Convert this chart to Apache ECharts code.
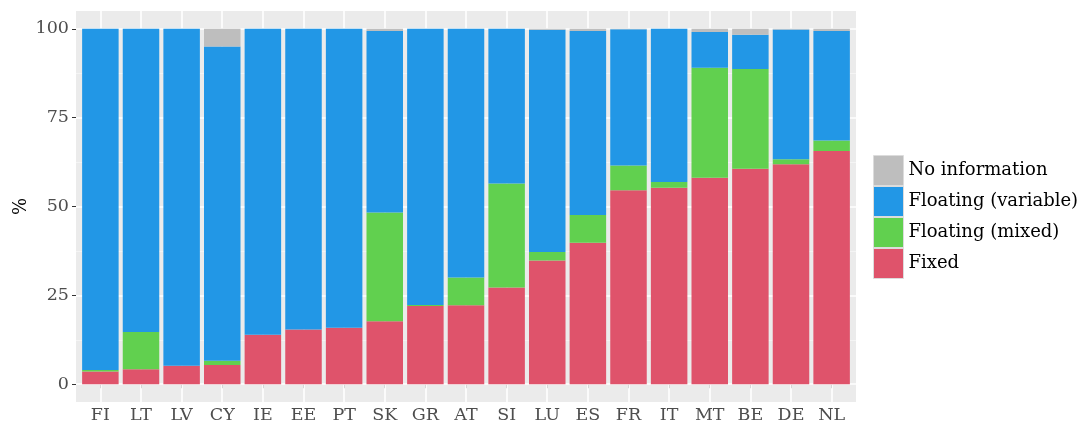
<!DOCTYPE html>
<html style="height: 100%">
<head>
    <meta charset="utf-8">
    <title>Interest rate type by country</title>
    <script type="text/javascript" src="https://cdn.jsdelivr.net/npm/echarts@6/dist/echarts.min.js"></script>
</head>
<body style="height: 100%; margin: 0; background: #ffffff;">
<div id="container" style="width: 1090px; height: 421px;"></div>
<script type="text/javascript">
    // countries, in plot order
    var categories = ['FI','LT','LV','CY','IE','EE','PT','SK','GR','AT','SI','LU','ES','FR','IT','MT','BE','DE','NL'];
    // shares in %
    var fixedData    = [3.6, 4.2, 5.2, 5.4, 13.9, 15.4, 15.9, 17.7, 22.0, 22.2, 27.2, 34.8, 39.8, 54.6, 55.3, 58.1, 60.6, 61.9, 65.6];
    var mixedData    = [0.4, 10.5, 0, 1.2, 0, 0, 0, 30.6, 0.3, 7.8, 29.3, 2.4, 7.8, 6.9, 1.6, 30.9, 28.1, 1.4, 3.0];
    var variableData = [96.0, 85.3, 94.8, 88.4, 86.1, 84.6, 84.1, 51.1, 77.7, 70.0, 43.5, 62.5, 51.8, 38.4, 43.1, 10.1, 9.6, 36.5, 30.8];
    var noInfoData   = [0, 0, 0, 5.0, 0, 0, 0, 0.6, 0, 0, 0, 0.3, 0.6, 0.1, 0, 0.9, 1.7, 0.2, 0.6];
    var yTicks = [0, 25, 50, 75, 100];
    var yMinor = [12.5, 37.5, 62.5, 87.5];

    var font = 'DejaVu Serif';
    var positions = categories.map(function (c, i) { return i + 1; });

    // value first, position second, so the stack runs on y
    function toPoints(arr) {
        return arr.map(function (v, i) { return [v, i + 1]; });
    }

    function barSeries(name, arr, color) {
        return {
            name: name,
            type: 'bar',
            stack: 'total',
            barWidth: 36.5,
            z: 3,
            encode: {x: 1, y: 0},
            itemStyle: {color: color},
            data: toPoints(arr)
        };
    }

    // grid lines drawn as mark lines of a helper series, under the bars
    var gridLines = [];
    yTicks.forEach(function (v) {
        gridLines.push({yAxis: v, lineStyle: {color: '#ffffff', width: 1.6, type: 'solid'}});
    });
    yMinor.forEach(function (v) {
        gridLines.push({yAxis: v, lineStyle: {color: '#f6f6f6', width: 0.8, type: 'solid'}});
    });
    positions.forEach(function (p) {
        gridLines.push({xAxis: p, lineStyle: {color: '#ffffff', width: 1.6, type: 'solid'}});
    });

    var myChart = echarts.init(document.getElementById('container'));
    var option = {
        animation: false,
        textStyle: {fontFamily: font},
        grid: {
            left: 76,
            right: 234,
            top: 11,
            bottom: 19,
            outerBoundsMode: 'none',
            containLabel: false,
            show: true,
            backgroundColor: '#ebebeb',
            borderWidth: 0
        },
        legend: {
            orient: 'vertical',
            left: 873,
            top: 155,
            padding: 0,
            itemWidth: 30,
            itemHeight: 30,
            itemGap: 0,
            icon: 'rect',
            textStyle: {fontFamily: font, fontSize: 18, color: '#000000'},
            itemStyle: {borderColor: '#dcdcdc', borderWidth: 1},
            data: ['No information', 'Floating (variable)', 'Floating (mixed)', 'Fixed']
        },
        xAxis: {
            type: 'value',
            min: 0.4,
            max: 19.6,
            splitLine: {show: false},
            axisLine: {show: false},
            axisTick: {show: true, length: 4, customValues: positions, lineStyle: {color: '#333333'}},
            axisLabel: {
                customValues: positions,
                margin: 4,
                fontFamily: font,
                fontSize: 17.5,
                color: '#4d4d4d',
                formatter: function (v) { return categories[Math.round(v) - 1] || ''; }
            }
        },
        yAxis: {
            type: 'value',
            min: -5,
            max: 105,
            name: '%',
            nameLocation: 'middle',
            nameRotate: 90,
            nameGap: 46,
            nameMoveOverlap: false,
            nameTextStyle: {fontFamily: font, fontSize: 18, color: '#000000'},
            splitLine: {show: false},
            axisLine: {show: false},
            axisTick: {show: true, length: 4, customValues: yTicks, lineStyle: {color: '#333333'}},
            axisLabel: {
                customValues: yTicks,
                margin: 7,
                fontFamily: font,
                fontSize: 17.5,
                color: '#4d4d4d'
            }
        },
        series: [
            {
                name: 'grid',
                type: 'scatter',
                data: [[10, 50]],
                symbolSize: 0,
                silent: true,
                z: 1,
                markLine: {
                    silent: true,
                    symbol: 'none',
                    z: 1,
                    animation: false,
                    label: {show: false},
                    data: gridLines
                }
            },
            barSeries('Fixed', fixedData, '#df536b'),
            barSeries('Floating (mixed)', mixedData, '#61d04f'),
            barSeries('Floating (variable)', variableData, '#2297e6'),
            barSeries('No information', noInfoData, '#bebebe')
        ]
    };
    myChart.setOption(option, true);
</script>
</body>
</html>
